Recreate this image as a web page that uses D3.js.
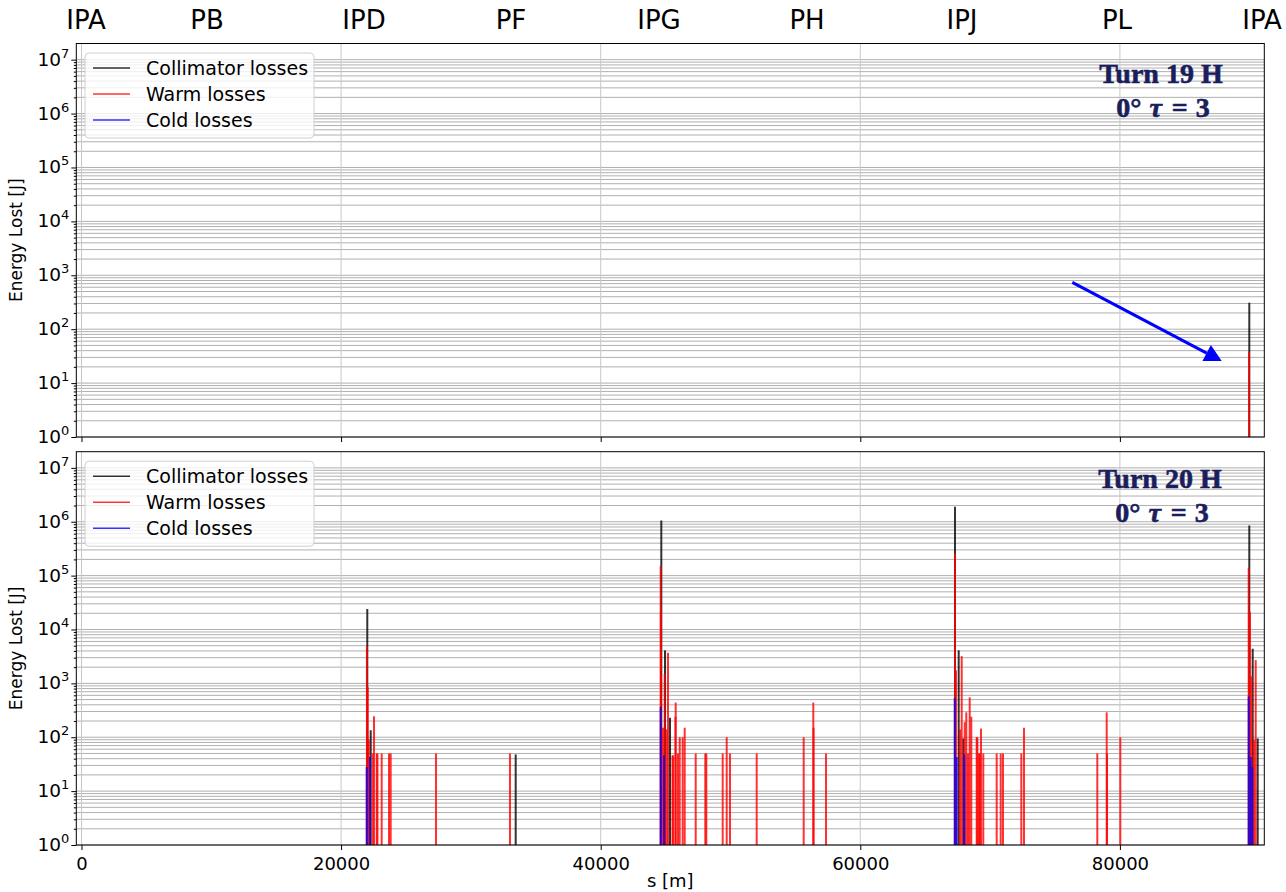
<!DOCTYPE html>
<html><head><meta charset="utf-8">
<script src="https://cdn.jsdelivr.net/npm/d3@7"></script>
<style>body{margin:0;background:#fff}svg{display:block}</style>
</head><body><svg id="c" width="1286" height="892"></svg>
<script>
// ---------- data ----------
const ipNames = ["IPA","PB","IPD","PF","IPG","PH","IPJ","PL","IPA"];
const ipPos   = [347, 9669, 21764, 33089, 44492, 55894, 67835, 79777, 90948];
const xTicks = [0, 20000, 40000, 60000, 80000];
const yTickExps = [0,1,2,3,4,5,6,7];
const seriesNames = ["Collimator losses","Warm losses","Cold losses"];
const seriesColors = ["#000000","#ff0000","#0000ff"];

// panel 1: Turn 19
const coll19 = [[89969, 310]];
const warm19 = [[89950, 38]];
const cold19 = [];
const arrowStart19 = [76333, 741];
const arrowEnd19 = [87843, 25.7];

// panel 2: Turn 20
const coll20 = [[22018,24000],[22280,135],[33451,48],[44669,1.05e6],[44954,4100],[45339,230],
  [67296,1.9e6],[67581,4100],[67935,95],[89969,8.5e5],[90231,4400],[90616,95]];
const warm20 = [[21990,4900],[22050,850],[22130,90],[22434,50],[22535,245],[22743,50],[22800,50],
  [23128,50],[23690,50],[23821,50],[27311,50],[33012,50],
  [44622,1.5e5],[44640,2.1e4],[44800,150],[44930,1500],[45085,140],[45185,3700],[45532,46],[45580,46],
  [45760,240],[45778,440],[45955,50],[46086,100],[46317,100],[46471,150],[47319,50],[48059,50],[48136,50],
  [49399,50],[49707,100],[49961,50],[52018,50],[55639,100],[56379,440],[56400,150],[57357,50],
  [67296,2.6e5],[67373,1740],[67681,140],[67812,3200],[68043,190],[68166,290],[68297,50],[68428,550],
  [68552,240],[68968,100],[69020,100],[69145,50],[69200,50],[69299,145],[69476,50],[70508,50],[70817,50],
  [70994,50],[72404,50],[72612,150],[78259,50],[78983,290],[79010,50],[80031,100],
  [89923,1.4e5],[90023,2.1e4],[90139,1350],[90331,90],[90462,2700]];
const cold20 = [[21972,28],[22226,43],[44622,365],[44877,46],[67273,530],[67427,43],[68012,48],
  [89923,570],[90077,43],[90200,28]];

const turnLabels = ["Turn 19 H","Turn 20 H"];

// ---------- layout ----------
const svg = d3.select("#c");
const X0 = 76.3, X1 = 1264.3;
const panels = [
  {top:43.5, bottom:437, series:[coll19,warm19,cold19], turn:turnLabels[0], arrow:[arrowStart19,arrowEnd19], xlabels:false, ax:1161, dy:0},
  {top:451.7, bottom:845, series:[coll20,warm20,cold20], turn:turnLabels[1], arrow:null, xlabels:true, ax:1160, dy:-3}
];
const x = d3.scaleLinear().domain([-400, 91125]).range([X0, X1]);
const FONT = "DejaVu Sans, sans-serif";

// top IP labels
svg.append("g").selectAll("text").data(ipNames).join("text")
  .attr("x",(d,i)=>x(ipPos[i])).attr("y",29).attr("text-anchor","middle")
  .attr("font-family",FONT).attr("font-size",26).attr("fill","#000").text(d=>d);

panels.forEach((p,pi)=>{
  const y = d3.scaleLog().domain([1, Math.pow(10,7.3)]).range([p.bottom, p.top]);
  const g = svg.append("g");
  const minor = [];
  yTickExps.forEach(e=>{ for(let k=2;k<=9;k++){ const v=k*Math.pow(10,e); if(v<Math.pow(10,7.3)) minor.push(v);} });
  const major = yTickExps.map(e=>Math.pow(10,e));
  g.append("g").selectAll("line").data(minor.concat(major)).join("line")
    .attr("x1",X0).attr("x2",X1).attr("y1",d=>y(d)).attr("y2",d=>y(d))
    .attr("stroke","#b0b0b0").attr("stroke-width",1);
  g.append("g").selectAll("line").data(xTicks).join("line")
    .attr("x1",d=>x(d)).attr("x2",d=>x(d)).attr("y1",p.top).attr("y2",p.bottom)
    .attr("stroke","#c8c8c8").attr("stroke-width",1);
  p.series.forEach((ser,si)=>{
    g.append("g").selectAll("line").data(ser).join("line")
      .attr("x1",d=>x(d[0])).attr("x2",d=>x(d[0]))
      .attr("y1",y(1)).attr("y2",d=>y(d[1]))
      .attr("stroke",seriesColors[si]).attr("stroke-opacity",0.8).attr("stroke-width",2);
  });
  const yAxis = d3.axisLeft(y).tickValues(major).tickSize(5).tickFormat(()=>"");
  const ya = g.append("g").attr("transform",`translate(${X0},0)`).call(yAxis);
  ya.select(".domain").remove();
  const yMinor = d3.axisLeft(y).tickValues(minor).tickSize(2.5).tickFormat(()=>"");
  const ym = g.append("g").attr("transform",`translate(${X0},0)`).call(yMinor);
  ym.select(".domain").remove();
  const lbl = g.append("g").selectAll("text").data(yTickExps).join("text")
    .attr("x",X0-7).attr("y",d=>y(Math.pow(10,d))+6).attr("text-anchor","end")
    .attr("font-family",FONT).attr("font-size",18.5).attr("fill","#000");
  lbl.append("tspan").text("10");
  lbl.append("tspan").attr("dy",-8).attr("font-size",13).text(d=>d);
  const xAxis = d3.axisBottom(x).tickValues(xTicks).tickSize(5).tickFormat(p.xlabels? d3.format("d") : ()=>"");
  const xa = g.append("g").attr("transform",`translate(0,${p.bottom})`).call(xAxis);
  xa.select(".domain").remove();
  xa.selectAll("text").attr("font-family",FONT).attr("font-size",18).attr("fill","#000").attr("dy","0.95em");
  g.append("rect").attr("x",X0).attr("y",p.top).attr("width",X1-X0).attr("height",p.bottom-p.top)
    .attr("fill","none").attr("stroke","#000").attr("stroke-width",1);
  g.append("text").attr("transform",`translate(22,${(p.top+p.bottom)/2}) rotate(-90)`)
    .attr("text-anchor","middle").attr("font-family",FONT).attr("font-size",17).text("Energy Lost [J]");
  // legend
  const lx = 85, ly = p.top+9.5;
  const leg = g.append("g");
  leg.append("rect").attr("x",lx).attr("y",ly).attr("width",229).attr("height",85).attr("rx",4)
    .attr("fill","#fff").attr("fill-opacity",0.8).attr("stroke","#d0d0d0");
  seriesNames.forEach((n,i)=>{
    const cy = ly+15+i*26;
    leg.append("line").attr("x1",lx+8).attr("x2",lx+45).attr("y1",cy).attr("y2",cy)
      .attr("stroke",seriesColors[i]).attr("stroke-opacity",0.8).attr("stroke-width",1.5);
    leg.append("text").attr("x",lx+61).attr("y",cy+6.5).attr("font-family",FONT).attr("font-size",19).text(n);
  });
  // annotation
  const annStyle = s => s.attr("text-anchor","middle")
    .attr("font-family","Liberation Serif, serif").attr("font-weight","bold").attr("font-size",28)
    .attr("fill","#1b1e5c").attr("stroke","#1b1e5c").attr("stroke-width",0.6);
  g.append("text").attr("x",p.ax).attr("y",p.top+39+p.dy).call(annStyle).text(p.turn);
  const t2 = g.append("text").attr("x",p.ax+2).attr("y",p.top+73+p.dy).call(annStyle);
  t2.append("tspan").text("0°");
  t2.append("tspan").attr("dx",8).attr("font-style","italic").text("τ");
  t2.append("tspan").attr("dx",10).text("=");
  t2.append("tspan").attr("dx",8).text("3");
  if(p.arrow){
    const [s,e] = p.arrow;
    const x1=x(s[0]), y1=y(s[1]), x2=x(e[0]), y2=y(e[1]);
    const dx=x2-x1, dy=y2-y1, L=Math.hypot(dx,dy), ux=dx/L, uy=dy/L;
    const hl=17, hw=9;
    const bx=x2-ux*hl, by=y2-uy*hl;
    g.append("line").attr("x1",x1).attr("y1",y1).attr("x2",bx).attr("y2",by)
      .attr("stroke","#0000ff").attr("stroke-width",3);
    g.append("path").attr("d",`M${x2},${y2}L${bx-uy*hw},${by+ux*hw}L${bx+uy*hw},${by-ux*hw}Z`).attr("fill","#0000ff");
  }
});
svg.append("text").attr("x",(X0+X1)/2).attr("y",887).attr("text-anchor","middle")
  .attr("font-family",FONT).attr("font-size",18).text("s [m]");
</script></body></html>
